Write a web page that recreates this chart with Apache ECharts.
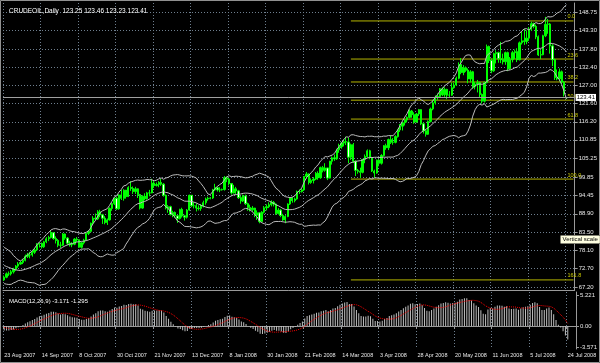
<!DOCTYPE html>
<html><head><meta charset="utf-8">
<script src="https://cdn.jsdelivr.net/npm/echarts@6/dist/echarts.min.js"></script>
<style>html,body{margin:0;padding:0;background:#000}#c{width:600px;height:363px}</style>
</head><body><div id="c"></div><script>
// ---- data ----
const dateLabels = ['23 Aug 2007','14 Sep 2007','8 Oct 2007','30 Oct 2007','21 Nov 2007','13 Dec 2007','8 Jan 2008','30 Jan 2008','21 Feb 2008','14 Mar 2008','3 Apr 2008','28 Apr 2008','20 May 2008','11 Jun 2008','5 Jul 2008','24 Jul 2008'];
const barsPerLabel = 16;
const emptySlots = 3;
const opens = [69.3,70.1,71.1,71.1,71.7,72.5,73.4,74.0,74.5,75.1,
76.3,76.7,76.7,77.5,78.2,79.9,80.1,79.1,80.6,81.5,
81.9,83.3,81.6,81.0,79.6,79.6,82.9,81.7,80.2,79.7,
79.9,81.4,81.2,79.0,80.3,81.1,83.1,83.7,86.1,87.6,
87.4,89.5,88.6,87.6,86.3,87.1,90.5,91.9,93.5,90.4,
94.5,93.5,95.9,94.0,96.7,96.4,95.5,96.3,94.6,90.6,
94.1,93.4,95.1,95.1,98.0,97.3,97.6,98.2,97.7,94.4,
90.6,91.0,88.7,89.3,88.3,87.5,90.2,88.3,87.9,90.0,
94.4,91.3,91.3,90.6,90.5,91.2,92.2,93.3,93.5,93.6,
96.0,96.6,96.0,96.0,96.1,99.6,99.2,97.9,95.1,96.3,
95.7,93.7,92.7,94.2,91.9,90.8,90.1,90.6,88.5,89.2,
86.6,89.4,90.7,91.0,91.6,92.3,91.8,89.0,90.0,88.4,
87.1,88.1,91.8,93.6,92.8,93.3,95.5,95.5,96.0,100.0,
100.7,98.2,98.8,99.2,100.9,99.6,102.6,101.8,102.5,99.5,
104.5,105.5,105.2,107.9,108.8,109.9,110.3,110.2,105.7,109.4,
104.5,101.8,101.5,101.2,105.0,105.9,107.6,105.6,101.6,101.0,
104.8,103.9,106.2,109.1,108.5,110.9,110.1,110.1,111.8,113.8,
114.9,115.9,116.7,117.5,119.4,118.3,116.1,118.5,119.8,115.6,
113.5,112.5,116.3,120.0,121.8,123.5,123.7,126.0,124.2,125.8,
124.1,124.1,126.3,127.1,129.1,133.2,130.8,132.2,131.5,128.9,
131.0,126.6,127.4,127.8,124.3,122.3,127.8,138.5,134.4,131.3,
136.4,136.7,134.9,134.6,134.0,136.7,131.9,134.6,136.7,137.0,
134.6,139.6,140.2,140.0,141.0,143.6,145.3,144.5,141.4,136.0,
136.1,141.7,145.1,145.2,138.7,134.6,129.3,128.9,131.0,128.0,
123.25];
const closes = [70.1,71.1,71.1,71.7,72.5,73.4,74.0,74.5,75.1,76.3,
76.7,76.7,77.5,78.2,79.9,80.1,79.1,80.6,81.5,81.9,
83.3,81.6,81.0,79.6,79.6,82.9,81.7,80.2,79.7,79.9,
81.4,81.2,79.0,80.3,81.1,83.1,83.7,86.1,87.6,87.4,
89.5,88.6,87.6,86.3,87.1,90.5,91.9,93.5,90.4,94.5,
93.5,95.9,94.0,96.7,96.4,95.5,96.3,94.6,90.6,94.1,
93.4,95.1,95.1,98.0,97.3,97.6,98.2,97.7,94.4,90.6,
91.0,88.7,89.3,88.3,87.5,90.2,88.3,87.9,90.0,94.4,
91.3,91.3,90.6,90.5,91.2,92.2,93.3,93.5,93.6,96.0,
96.6,96.0,96.0,96.1,99.6,99.2,97.9,95.1,96.3,95.7,
93.7,92.7,94.2,91.9,90.8,90.1,90.6,88.5,89.2,86.6,
89.4,90.7,91.0,91.6,92.3,91.8,89.0,90.0,88.4,87.1,
88.1,91.8,93.6,92.8,93.3,95.5,95.5,96.0,100.0,100.7,
98.2,98.8,99.2,100.9,99.6,102.6,101.8,102.5,99.5,104.5,
105.5,105.2,107.9,108.8,109.9,110.3,110.2,105.7,109.4,104.5,
101.8,101.5,101.2,105.0,105.9,107.6,105.6,101.6,101.0,104.8,
103.9,106.2,109.1,108.5,110.9,110.1,110.1,111.8,113.8,114.9,
115.9,116.7,117.5,119.4,118.3,116.1,118.5,119.8,115.6,113.5,
112.5,116.3,120.0,121.8,123.5,123.7,126.0,124.2,125.8,124.1,
124.1,126.3,127.1,129.1,133.2,130.8,132.2,131.5,128.9,131.0,
126.6,127.4,127.8,124.3,122.3,127.8,138.5,134.4,131.3,136.4,
136.7,134.9,134.6,134.0,136.7,131.9,134.6,136.7,137.0,134.6,
139.6,140.2,140.0,141.0,143.6,145.3,144.5,141.4,136.0,136.1,
141.7,145.1,145.2,138.7,134.6,129.3,128.9,131.0,128.0,124.4,
123.41];
const highs = [70.6,71.5,71.8,72.2,72.9,73.7,74.6,74.9,75.6,76.8,
77.3,77.6,78.0,78.8,80.2,80.4,80.4,80.9,82.0,82.4,
83.9,83.5,82.2,81.4,80.6,83.2,83.1,82.0,80.9,80.5,
81.7,82.0,81.3,80.6,81.5,83.5,84.1,86.3,88.2,89.0,
90.0,90.1,88.9,88.2,87.5,90.8,92.2,93.8,94.0,94.7,
96.0,96.2,96.0,97.1,98.6,97.0,96.9,96.4,94.8,94.4,
95.0,95.4,96.0,99.3,98.6,98.2,98.6,99.3,98.0,94.6,
91.5,91.3,89.8,89.6,88.6,90.4,90.7,88.6,90.3,94.6,
94.4,92.3,92.0,91.4,91.8,92.8,93.7,94.0,93.9,96.3,
97.8,97.0,96.8,96.4,100.1,100.0,99.5,97.6,97.5,96.9,
96.0,94.2,94.6,94.6,92.2,91.6,91.2,90.7,89.9,89.4,
89.7,91.2,91.7,92.3,92.9,92.7,92.0,90.6,90.3,88.9,
88.5,92.0,93.9,93.9,93.7,95.8,96.1,96.4,100.1,101.3,
100.9,99.4,99.8,101.3,101.5,102.9,103.1,103.9,102.6,104.6,
105.9,106.5,108.2,109.7,110.2,111.0,111.8,111.5,109.7,109.9,
104.8,102.2,102.6,105.2,106.5,108.0,107.9,105.8,102.0,105.0,
105.1,106.6,109.3,109.7,111.2,112.2,111.4,112.2,114.1,115.5,
116.0,117.0,117.8,119.9,119.7,119.0,118.8,120.0,119.9,116.0,
113.8,116.6,120.4,122.7,124.0,124.6,126.2,126.4,126.4,126.0,
125.3,127.8,127.8,129.6,133.8,135.1,133.0,132.6,132.0,131.5,
131.3,128.0,128.6,128.1,124.6,128.1,139.1,138.8,135.0,136.7,
137.4,137.0,139.9,136.4,137.0,137.0,135.4,137.2,137.6,138.0,
140.0,143.0,143.7,143.3,144.3,145.9,145.6,145.0,141.8,137.4,
142.0,147.3,146.7,145.5,139.2,134.9,131.7,132.0,131.4,128.3,
123.46];
const lows = [69.0,69.8,70.5,70.6,71.2,72.0,72.9,73.8,74.0,74.8,
75.8,75.7,76.2,77.0,77.9,78.9,78.6,78.8,80.2,80.8,
81.6,81.2,80.1,79.0,78.8,79.4,81.2,79.6,79.2,79.0,
79.6,80.6,78.8,78.6,79.8,80.9,82.6,83.4,85.8,86.9,
87.1,87.9,85.9,85.8,85.6,86.9,89.8,91.5,90.0,90.1,
93.0,92.8,93.4,93.9,95.7,94.8,94.8,93.6,90.2,90.4,
92.9,93.1,94.1,95.0,96.6,97.0,96.8,97.2,94.0,90.2,
89.2,88.4,87.9,87.7,86.2,87.2,87.8,86.9,87.5,89.8,
90.9,90.5,89.6,89.9,89.8,90.8,91.6,92.8,93.2,93.3,
95.7,95.5,95.3,95.8,95.8,98.3,97.3,94.6,94.9,94.8,
93.3,91.9,92.4,91.5,89.8,89.6,89.5,87.9,87.1,86.1,
86.5,89.0,89.9,90.6,91.1,91.1,88.6,88.7,87.9,86.8,
86.1,87.9,91.5,92.2,92.3,93.1,94.8,95.2,95.7,99.3,
97.6,97.8,97.9,98.9,99.0,99.3,101.2,101.4,98.9,99.4,
103.5,104.6,104.9,107.0,108.2,108.9,109.3,103.9,104.9,104.0,
100.1,100.8,99.5,100.9,103.9,105.5,105.1,101.3,99.6,100.8,
103.0,103.5,105.9,107.9,107.8,109.6,109.4,109.8,111.5,113.2,
113.6,115.1,116.0,117.2,117.4,115.6,115.9,117.9,115.2,112.7,
111.8,112.3,116.0,119.6,121.3,122.7,123.4,123.8,123.6,122.9,
123.3,123.9,126.0,126.8,128.8,130.3,130.0,131.0,127.6,127.9,
126.0,125.8,124.9,123.3,121.6,121.9,127.6,133.6,130.6,131.0,
133.5,133.7,133.6,133.2,133.1,131.2,131.6,133.8,134.8,133.9,
134.4,139.1,139.0,139.2,140.2,143.1,143.9,140.7,135.7,134.8,
135.9,141.3,142.3,136.4,132.7,128.6,128.5,128.2,127.4,123.7,
123.23];
// closes before the first visible bar, used only to start the indicators
const warmupCloses = [69.1,69.1,68.2,69.0,69.2,68.8,67.8,69.0,70.7,70.7,
71.1,71.4,71.6,71.8,72.8,72.2,71.9,72.6,72.5,73.9,74.2,
74.0,75.0,75.9,75.6,74.9,73.9,75.9,76.8,77.0,76.8,
78.2,76.5,76.9,75.5,72.1,72.4,72.2,71.6,71.5,71.6,
73.4,75.4,71.0,72.0,71.1,69.3];
const priceTicks = [148.75,143.30,137.80,132.40,127.00,121.60,116.20,110.85,105.25,99.85,94.45,88.90,83.50,78.10,72.70,67.20];
const macdTicks = [5.221,0,-3.571];
const fibLevels = [0.0,23.6,38.2,50.0,61.8,100.0,161.8];
const fibPrices = [146.1,134.8,128.0,122.6,117.0,99.2,69.3];
const fibStartIndex = 148;
const lastPrice = 123.41;
const titleText = 'CRUDEOIL,Daily  123.25 123.46 123.23 123.41';
const macdTitle = 'MACD(12,26,9) -3.171 -1.295';

// ---- indicators (Bollinger 20,2 and MACD 12,26,9) ----
const all = warmupCloses.concat(closes);
const off = warmupCloses.length;
const bbUp = [], bbMid = [], bbLow = [];
for (let i = 0; i < closes.length; i++) {
  const j = i + off;
  let s = 0; for (let k = j - 19; k <= j; k++) s += all[k];
  const m = s / 20;
  let v = 0; for (let k = j - 19; k <= j; k++) v += (all[k] - m) * (all[k] - m);
  const sd = Math.sqrt(v / 20);
  bbMid.push(+m.toFixed(3)); bbUp.push(+(m + 2 * sd).toFixed(3)); bbLow.push(+(m - 2 * sd).toFixed(3));
}
let e12 = all[0], e26 = all[0];
const macdAll = [];
for (let j = 0; j < all.length; j++) {
  e12 = all[j] * 2 / 13 + e12 * 11 / 13;
  e26 = all[j] * 2 / 27 + e26 * 25 / 27;
  macdAll.push(e12 - e26);
}
const sigAll = macdAll.map((v, j) => {
  if (j < 8) return null;
  let s = 0; for (let k = j - 8; k <= j; k++) s += macdAll[k];
  return s / 9;
});
const macd = macdAll.slice(off).map(v => +v.toFixed(3));
const signal = sigAll.slice(off).map(v => +v.toFixed(3));

const N = closes.length + emptySlots;
const cats = Array.from({length: N}, (_, i) => String(i));
const candles = closes.map((c, i) => [opens[i], c, lows[i], highs[i]]);
const onLabel = (idx) => idx % barsPerLabel === 0;

const FONT = 'Liberation Sans';
const FIB = '#b4b400';
const gridLine = {show: true, interval: onLabel, lineStyle: {color: '#6f7f8f', type: [1, 2], width: 1}};

// Fibonacci levels as short two-point line series from fibStartIndex to the last slot
const fibSeries = fibPrices.map((p, k) => ({
  type: 'line', xAxisIndex: 0, yAxisIndex: 0, symbol: 'none', silent: true, z: 1,
  data: [[fibStartIndex, p], [N - 1, p]],
  lineStyle: {color: FIB, width: 1, type: 'solid'},
  endLabel: {show: true, formatter: fibLevels[k].toFixed(1), color: '#c8c800', fontSize: 5.5, fontFamily: FONT,
    offset: [-14, -4]}
}));

const chart = echarts.init(document.getElementById('c'), null, {renderer: 'canvas'});
chart.setOption({
  animation: false,
  backgroundColor: '#000',
  title: [
    {text: titleText, left: 4, top: 3, textStyle: {color: '#fff', fontSize: 6.5, fontWeight: 'normal', fontFamily: FONT}},
    {text: macdTitle, left: 4, top: 293, textStyle: {color: '#fff', fontSize: 6, fontWeight: 'normal', fontFamily: FONT}}
  ],
  grid: [
    {left: 3, right: 22, top: 3, height: 287},
    {left: 3, right: 22, top: 292, height: 57}
  ],
  xAxis: [
    {type: 'category', gridIndex: 0, data: cats, boundaryGap: true,
     axisLine: {show: true, lineStyle: {color: '#9a9a9a'}}, axisTick: {show: false}, axisLabel: {show: false},
     splitLine: gridLine},
    {type: 'category', gridIndex: 1, data: cats, boundaryGap: true,
     axisLine: {show: true, lineStyle: {color: '#9a9a9a'}},
     axisTick: {show: true, interval: onLabel, length: 3, lineStyle: {color: '#9a9a9a'}},
     axisLabel: {show: true, interval: onLabel, formatter: (v, idx) => dateLabels[idx / barsPerLabel] || '',
       color: '#e8e8e8', fontSize: 5.5, fontFamily: FONT, align: 'left', margin: 3, hideOverlap: false},
     splitLine: gridLine}
  ],
  yAxis: [
    {type: 'value', gridIndex: 0, position: 'right', min: 66.31, max: 151.42,
     axisLine: {show: true, lineStyle: {color: '#9a9a9a'}},
     axisTick: {show: true, customValues: priceTicks, length: 3, lineStyle: {color: '#9a9a9a'}},
     axisLabel: {show: true, customValues: priceTicks, formatter: v => v.toFixed(2), color: '#e8e8e8', fontSize: 6, fontFamily: FONT, margin: 4},
     splitLine: {show: true, lineStyle: {color: '#6f7f8f', type: [1, 2], width: 1}}},
    {type: 'value', gridIndex: 1, position: 'right', min: -3.909, max: 5.728,
     axisLine: {show: true, lineStyle: {color: '#9a9a9a'}},
     axisTick: {show: true, customValues: macdTicks, length: 3, lineStyle: {color: '#9a9a9a'}},
     axisLabel: {show: true, customValues: macdTicks, formatter: v => v === 0 ? '0.00' : v.toFixed(3), color: '#e8e8e8', fontSize: 6, fontFamily: FONT, margin: 4},
     splitLine: {show: false}}
  ],
  series: fibSeries.concat([
    {type: 'candlestick', xAxisIndex: 0, yAxisIndex: 0, data: candles, barWidth: 1.8, z: 3,
     itemStyle: {color: '#00ff00', color0: '#ffffff', borderColor: '#00ff00', borderColor0: '#00ff00', borderWidth: 1},
     markLine: {silent: true, symbol: ['none', 'none'], animation: false,
       data: [{yAxis: lastPrice, lineStyle: {color: '#a0a0a0', type: 'solid', width: 1},
         label: {show: true, position: 'end', formatter: lastPrice.toFixed(2), backgroundColor: '#ffffff', color: '#000', fontSize: 6, fontFamily: FONT, padding: [1, 1, 0, 1], distance: 1}}]}},
    {type: 'line', xAxisIndex: 0, yAxisIndex: 0, data: bbUp, symbol: 'none', z: 4, lineStyle: {color: '#bcbcbc', width: 1}},
    {type: 'line', xAxisIndex: 0, yAxisIndex: 0, data: bbMid, symbol: 'none', z: 4, lineStyle: {color: '#bcbcbc', width: 1}},
    {type: 'line', xAxisIndex: 0, yAxisIndex: 0, data: bbLow, symbol: 'none', z: 4, lineStyle: {color: '#bcbcbc', width: 1}},
    {type: 'bar', xAxisIndex: 1, yAxisIndex: 1, data: macd, barWidth: 1, itemStyle: {color: '#c0c0c0'}},
    {type: 'line', xAxisIndex: 1, yAxisIndex: 1, data: signal, symbol: 'none', lineStyle: {color: '#ff0000', width: 1, type: [1, 1]}}
  ]),
  graphic: [
    {type: 'rect', silent: true, shape: {x: 0.5, y: 0.5, width: 599, height: 362}, style: {fill: 'none', stroke: '#909090', lineWidth: 1}},
    {type: 'text', silent: true, left: 560, top: 235, z: 100,
     style: {text: 'Vertical scale', fill: '#000', font: '6px ' + FONT, backgroundColor: '#ffffe1', borderColor: '#000', borderWidth: 0.5, padding: [1, 2]}}
  ]
});
</script></body></html>
